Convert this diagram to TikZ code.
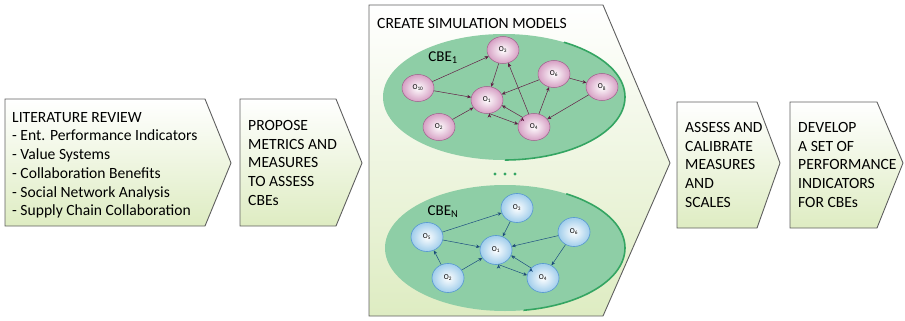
\documentclass[tikz,border=0pt]{standalone}
\usepackage{fontspec}
\setmainfont{Carlito}
\usetikzlibrary{shapes.geometric,arrows.meta}
\definecolor{boxline}{RGB}{95,95,95}
\definecolor{boxgreen}{RGB}{222,236,194}
\definecolor{cbegreen}{RGB}{142,206,166}
\definecolor{cbeedge}{RGB}{52,165,98}
\definecolor{pinkout}{RGB}{214,160,196}
\definecolor{pinkline}{RGB}{160,95,140}
\definecolor{pinkarrow}{RGB}{100,30,70}
\definecolor{blueout}{RGB}{160,205,235}
\definecolor{blueline}{RGB}{85,150,210}
\definecolor{bluearrow}{RGB}{30,80,130}
\tikzset{
  stepbox/.style={draw=boxline,line width=0.9pt,top color=white,bottom color=boxgreen},
  steptext/.style={anchor=north west,inner sep=0,align=left,font=\fontsize{15.6}{18.7}\selectfont},
  pnode/.style={ellipse,draw=pinkline,line width=0.5pt,inner color=white,outer color=pinkout,
    minimum width=32,minimum height=27,inner sep=0,font=\fontsize{7.5}{8}\selectfont},
  bnode/.style={ellipse,draw=blueline,line width=0.6pt,inner color=white,outer color=blueout,
    minimum width=32,minimum height=29,inner sep=0,font=\fontsize{7.5}{8}\selectfont},
  pedge/.style={->,draw=pinkarrow,line width=0.5pt},
  bedge/.style={->,draw=bluearrow,line width=0.5pt}
}
\begin{document}
\begin{tikzpicture}[x=1pt,y=-1pt,>={Stealth[length=4pt,width=3.5pt]}]
\useasboundingbox (0,0) rectangle (905,321);
% steps
\draw[stepbox] (5,99) -- (205,99) -- (231,163) -- (205,226) -- (5,226) -- cycle;
\draw[stepbox] (240,99) -- (336,99) -- (362,163) -- (336,226) -- (240,226) -- cycle;
\draw[stepbox] (369,5) -- (603,5) -- (670,163) -- (603,316) -- (369,316) -- cycle;
\draw[stepbox] (677,102) -- (757,102) -- (780,163) -- (757,228) -- (677,228) -- cycle;
\draw[stepbox] (790,102) -- (877,102) -- (903,163) -- (877,228) -- (790,228) -- cycle;
\node(lit) at (12,112)[steptext] {LITERATURE REVIEW\\- Ent. Performance Indicators\\- Value Systems\\- Collaboration Benefits\\- Social Network Analysis\\- Supply Chain Collaboration};
\node(prop) at (248,120)[steptext] {PROPOSE\\METRICS AND\\MEASURES\\TO ASSESS\\CBEs};
\node(sim) at (377,18)[steptext] {CREATE SIMULATION MODELS};
\node(cal) at (685,122)[steptext] {ASSESS AND\\CALIBRATE\\MEASURES\\AND\\SCALES};
\node(dev) at (798,122)[steptext] {DEVELOP\\A SET OF\\PERFORMANCE\\INDICATORS\\FOR CBEs};
% CBE areas
\fill[cbegreen] (504,97) ellipse [x radius=121,y radius=63];
\begin{scope}
\clip (575,20) -- (650,20) -- (650,170) -- (500,170) -- cycle;
\draw[cbeedge,line width=1.6pt] (504,97) ellipse [x radius=121,y radius=63];
\end{scope}
\fill[cbegreen] (505,248) ellipse [x radius=120,y radius=63];
\begin{scope}
\clip (575,170) -- (650,170) -- (650,320) -- (520,320) -- cycle;
\draw[cbeedge,line width=1.6pt] (505,248) ellipse [x radius=120,y radius=63];
\end{scope}
\fill[cbeedge] (495,174) circle (1.7) (505,174) circle (1.7) (515,174) circle (1.7);
\node(cbe1) at (443,58)[font=\fontsize{15}{16}\selectfont] {CBE\textsubscript{1}};
\node(cben) at (443,212)[font=\fontsize{15}{16}\selectfont] {CBE\textsubscript{N}};
% CBE 1
\node(a3) at (503,50)[pnode] {O\textsubscript{3}};
\node(a10) at (418,88)[pnode] {O\textsubscript{10}};
\node(a1) at (487,100)[pnode] {O\textsubscript{1}};
\node(a2) at (439,127)[pnode] {O\textsubscript{2}};
\node(a4) at (534,127)[pnode] {O\textsubscript{4}};
\node(a6) at (554,74)[pnode] {O\textsubscript{6}};
\node(a8) at (602,87)[pnode] {O\textsubscript{8}};
\path[pedge] (a10) edge (a3);
\path[pedge] (a10) edge (a1);
\path[pedge] (a3) edge (a1);
\path[pedge] (a2) edge (a1);
\path[pedge] (a1.-80) edge (a4.170);
\path[pedge] (a4.140) edge (a1.-20);
\path[pedge] (a4) edge (a3);
\path[pedge] (a6) edge (a1);
\path[pedge] (a4) edge (a6);
\path[pedge] (a6) edge (a8);
\path[pedge] (a8) edge (a4);
% CBE N
\node(b3) at (517,208)[bnode] {O\textsubscript{3}};
\node(b5) at (427,237)[bnode] {O\textsubscript{5}};
\node(b1) at (496,250)[bnode] {O\textsubscript{1}};
\node(b6) at (574,232)[bnode] {O\textsubscript{6}};
\node(b2) at (448,278)[bnode] {O\textsubscript{2}};
\node(b4) at (543,278)[bnode] {O\textsubscript{4}};
\path[bedge] (b5) edge (b3);
\path[bedge] (b3) edge (b1);
\path[bedge] (b5) edge (b1);
\path[bedge] (b6) edge (b1);
\path[bedge] (b6) edge (b4);
\path[bedge] (b1.-80) edge (b4.170);
\path[bedge] (b4.140) edge (b1.-20);
\path[bedge] (b2) edge (b1);
\path[bedge] (b2) edge (b5);
\end{tikzpicture}
\end{document}
